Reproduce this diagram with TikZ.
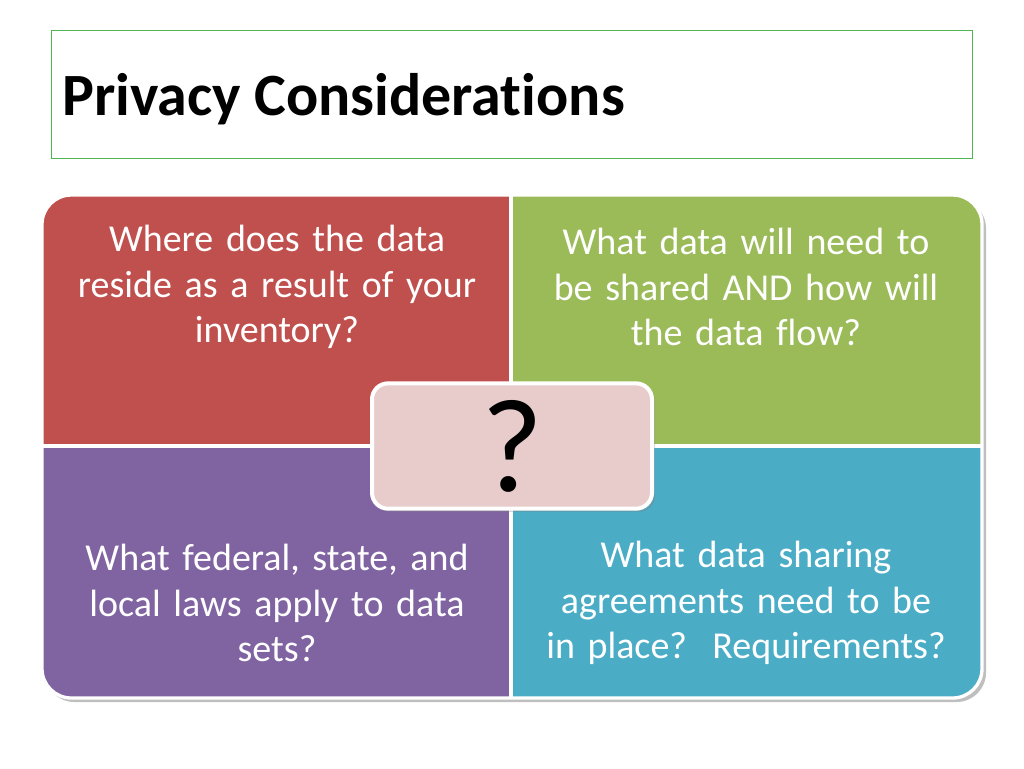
\documentclass[tikz,border=0pt]{standalone}
\usepackage{fontspec}
\setmainfont{Carlito}[Ligatures=NoCommon]
\usetikzlibrary{shadows}
\definecolor{qred}{RGB}{192,80,77}
\definecolor{qgreen}{RGB}{155,187,89}
\definecolor{qpurple}{RGB}{128,100,162}
\definecolor{qteal}{RGB}{75,172,198}
\definecolor{qpink}{RGB}{232,204,204}
\definecolor{tgreen}{RGB}{80,180,80}
\begin{document}
\begin{tikzpicture}[x=0.75pt,y=-0.75pt,
  qtext/.style={text=white,font=\fontsize{28.5}{34}\selectfont,align=center,text width=345pt}]
\useasboundingbox (0,0) rectangle (1024,768);
\node[draw=tgreen,line width=0.8pt,minimum width=690.75pt,minimum height=96pt,anchor=north west,inner sep=0pt] (titlebox) at (51,30) {};
\node[anchor=base west,inner sep=0pt,font=\fontsize{45}{50}\selectfont\bfseries] (title) at (62,115) {Privacy Considerations};
\fill[gray!50,rounded corners=22pt] (45,199) rectangle (986,702);
\begin{scope}
\clip[rounded corners=22pt] (42,195) rectangle (982,698);
\fill[qred] (42,195) rectangle (511,446);
\fill[qgreen] (511,195) rectangle (982,446);
\fill[qpurple] (42,446) rectangle (511,698);
\fill[qteal] (511,446) rectangle (982,698);
\draw[white,line width=2.5pt] (511,195) -- (511,698) (42,446) -- (982,446);
\end{scope}
\draw[white,line width=2.5pt,rounded corners=22pt] (42,195) rectangle (982,698);
\node[qtext] (q1) at (277,287) {Where does the data\\reside as a result of your\\inventory?};
\node[qtext] (q2) at (746,287) {What data will need to\\be shared AND how will\\the data flow?};
\node[qtext] (q3) at (277,603) {What federal, state, and\\local laws apply to data\\sets?};
\node[qtext] (q4) at (746,603) {What data sharing\\agreements need to be\\in place?\ \ Requirements?};
\node[fill=qpink,draw=white,line width=3pt,rounded corners=12pt,minimum width=210pt,minimum height=94pt,drop shadow={opacity=0.3},font=\fontsize{100}{100}\selectfont,inner sep=0pt] (center) at (512,446) {?};
\end{tikzpicture}
\end{document}
